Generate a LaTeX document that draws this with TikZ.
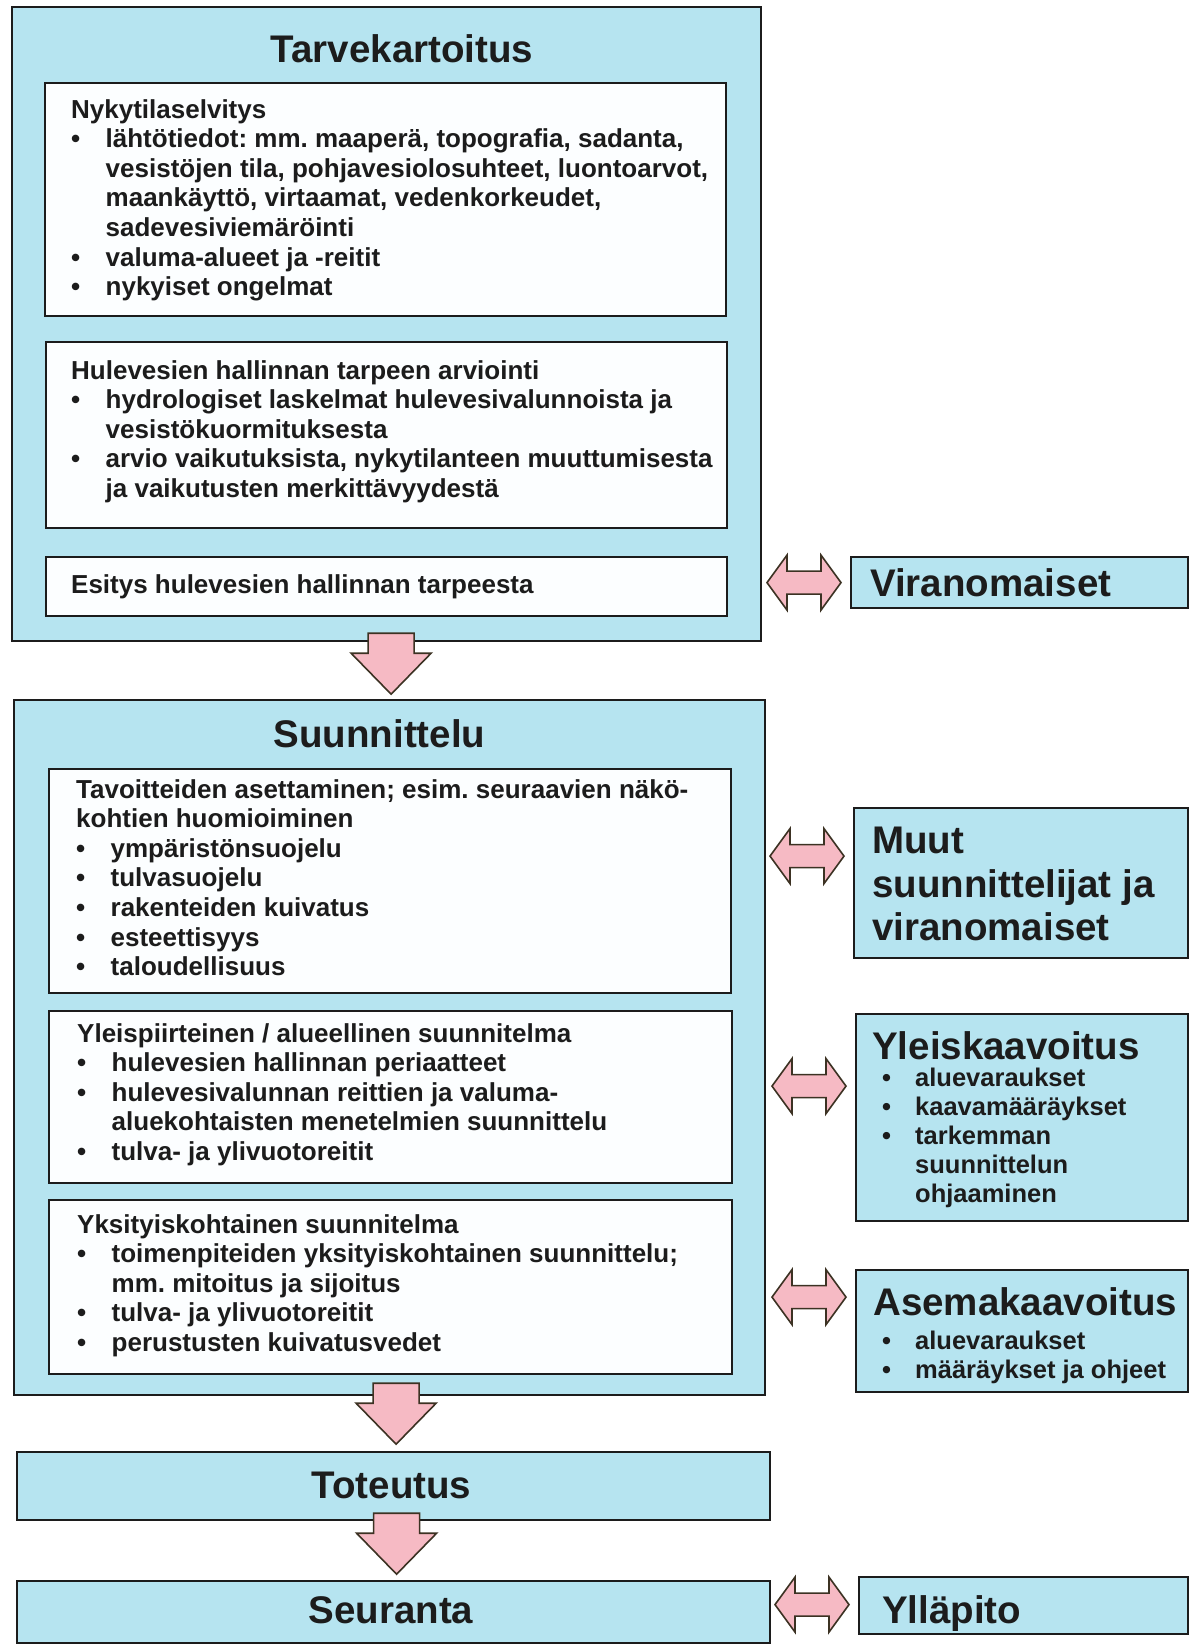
\documentclass[tikz,border=0pt]{standalone}
\usepackage{fontspec}
\setmainfont{Liberation Sans}
\usepackage{xcolor}
\definecolor{boxblue}{RGB}{182, 228, 240}
\definecolor{paperwhite}{RGB}{252, 254, 255}
\definecolor{arrowpink}{RGB}{246, 186, 196}
\definecolor{arrowedge}{RGB}{60, 50, 35}
\definecolor{inkblack}{RGB}{28, 28, 28}
\usepackage{tikz}
\usetikzlibrary{calc, positioning}
\frenchspacing

\newcommand{\bul}[1]{\makebox[34.5pt][l]{\textbullet}#1}
\newcommand{\cont}[1]{\hspace*{34.5pt}#1}
\newcommand{\rbul}[1]{\hspace*{9pt}\makebox[33pt][l]{\textbullet}#1}
\newcommand{\rcont}[1]{\hspace*{42pt}#1}

\tikzset{
    downarr/.pic={
        \filldraw[arrowshape] (-23,0) -- (23,0) -- (23,20) -- (40,20) -- (0,61)
            -- (-40,20) -- (-23,20) -- cycle;
    },
    dblarr/.pic={
        \filldraw[arrowshape] (-37,0) -- (-17,-27.5) -- (-17,-11.5) -- (17,-11.5)
            -- (17,-27.5) -- (37,0) -- (17,27.5) -- (17,11.5) -- (-17,11.5)
            -- (-17,27.5) -- cycle;
    }
}

\begin{document}
\begin{tikzpicture}[x=1pt, y=-1pt,
    arrowshape/.style={fill=arrowpink, draw=arrowedge, line width=1.6pt, line join=miter},
    bluebox/.style={draw=inkblack, line width=2.2pt, fill=boxblue, anchor=north west, inner sep=0pt},
    whitebox/.style={draw=inkblack, line width=1.8pt, fill=paperwhite, anchor=north west, inner sep=0pt},
    bigtitle/.style={font=\fontsize{38.5}{43.5}\selectfont\bfseries, text=inkblack, inner sep=0pt},
    bodytext/.style={font=\fontsize{26}{29.6}\selectfont\bfseries, text=inkblack, align=left,
        inner sep=0pt, anchor=north west},
    sidetext/.style={font=\fontsize{25.5}{29.2}\selectfont\bfseries, text=inkblack, align=left,
        inner sep=0pt, anchor=north west}]
    \useasboundingbox (0,0) rectangle (1189,1645);
    \fill[white] (0,0) rectangle (1189,1645);

    % main column
    \node[bluebox, minimum width=749, minimum height=634] (tarve) at (11,6) {};
    \node[bigtitle, anchor=base] (tarvetitle) at (402,63) {Tarvekartoitus};
    \node[whitebox, minimum width=681, minimum height=233] (nyky) at (44,82) {};
    \node[bodytext] (nykytext) at (71,99) {Nykytilaselvitys\\
        \bul{lähtötiedot: mm. maaperä, topografia, sadanta,}\\
        \cont{vesistöjen tila, pohjavesiolosuhteet, luontoarvot,}\\
        \cont{maankäyttö, virtaamat, vedenkorkeudet,}\\
        \cont{sadevesiviemäröinti}\\
        \bul{valuma-alueet ja -reitit}\\
        \bul{nykyiset ongelmat}};
    \node[whitebox, minimum width=681, minimum height=186] (arvio) at (45,341) {};
    \node[bodytext] (arviotext) at (71,360) {Hulevesien hallinnan tarpeen arviointi\\
        \bul{hydrologiset laskelmat hulevesivalunnoista ja}\\
        \cont{vesistökuormituksesta}\\
        \bul{arvio vaikutuksista, nykytilanteen muuttumisesta}\\
        \cont{ja vaikutusten merkittävyydestä}};
    \node[whitebox, minimum width=681, minimum height=59] (esitys) at (45,556) {};
    \node[bodytext] (esitystext) at (71,574) {Esitys hulevesien hallinnan tarpeesta};

    \node[bluebox, minimum width=751, minimum height=695] (suun) at (13,699) {};
    \node[bigtitle, anchor=base] (suuntitle) at (379.5,747) {Suunnittelu};
    \node[whitebox, minimum width=682, minimum height=224] (tavo) at (48,768) {};
    \node[bodytext] (tavotext) at (76,779) {Tavoitteiden asettaminen; esim. seuraavien näkö-\\
        kohtien huomioiminen\\
        \bul{ympäristönsuojelu}\\
        \bul{tulvasuojelu}\\
        \bul{rakenteiden kuivatus}\\
        \bul{esteettisyys}\\
        \bul{taloudellisuus}};
    \node[whitebox, minimum width=683, minimum height=172] (yleisuun) at (48,1010) {};
    \node[bodytext] (yleisuuntext) at (77,1023) {Yleispiirteinen / alueellinen suunnitelma\\
        \bul{hulevesien hallinnan periaatteet}\\
        \bul{hulevesivalunnan reittien ja valuma-}\\
        \cont{aluekohtaisten menetelmien suunnittelu}\\
        \bul{tulva- ja ylivuotoreitit}};
    \node[whitebox, minimum width=683, minimum height=174] (yksi) at (48,1199) {};
    \node[bodytext] (yksitext) at (77,1214) {Yksityiskohtainen suunnitelma\\
        \bul{toimenpiteiden yksityiskohtainen suunnittelu;}\\
        \cont{mm. mitoitus ja sijoitus}\\
        \bul{tulva- ja ylivuotoreitit}\\
        \bul{perustusten kuivatusvedet}};

    \node[bluebox, minimum width=753, minimum height=68] (tot) at (16,1451) {};
    \node[bigtitle, anchor=base] (tottitle) at (391.5,1498) {Toteutus};
    \node[bluebox, minimum width=753, minimum height=62] (seur) at (16,1580) {};
    \node[bigtitle, anchor=base] (seurtitle) at (391,1623) {Seuranta};

    % side column
    \node[bluebox, minimum width=337, minimum height=51] (viran) at (850,556) {};
    \node[bigtitle, anchor=base west] (virantext) at (870,596) {Viranomaiset};
    \node[bluebox, minimum width=334, minimum height=150] (muut) at (853,807) {};
    \node[bigtitle, align=left, anchor=north west] (muuttext) at (872,827)
        {Muut\\suunnittelijat ja\\viranomaiset};
    \node[bluebox, minimum width=332, minimum height=207] (yleis) at (855,1013) {};
    \node[bigtitle, anchor=base west] (yleistitle) at (872,1059) {Yleiskaavoitus};
    \node[sidetext] (yleistext) at (873,1067.4) {\rbul{aluevaraukset}\\
        \rbul{kaavamääräykset}\\
        \rbul{tarkemman}\\
        \rcont{suunnittelun}\\
        \rcont{ohjaaminen}};
    \node[bluebox, minimum width=332, minimum height=122] (asema) at (855,1269) {};
    \node[bigtitle, anchor=base west] (asematitle) at (873,1315) {Asemakaavoitus};
    \node[sidetext] (asematext) at (873,1330.4) {\rbul{aluevaraukset}\\
        \rbul{määräykset ja ohjeet}};
    \node[bluebox, minimum width=329, minimum height=57] (yllap) at (858,1576) {};
    \node[bigtitle, anchor=base west] (yllaptext) at (882,1623) {Ylläpito};

    % arrows
    \pic at ($(tarve.south)+(4.5,-9)$) {downarr};
    \pic at ($(suun.south)+(6.5,-13)$) {downarr};
    \pic at ($(tot.south)+(3,-8)$) {downarr};
    \pic at ($(viran.west)+(-46,0)$) {dblarr};
    \pic at ($(muut.west)+(-46,-27)$) {dblarr};
    \pic at ($(yleis.west)+(-46,-31.5)$) {dblarr};
    \pic at ($(asema.west)+(-46,-34)$) {dblarr};
    \pic at ($(yllap.west)+(-46,-1)$) {dblarr};
\end{tikzpicture}
\end{document}
